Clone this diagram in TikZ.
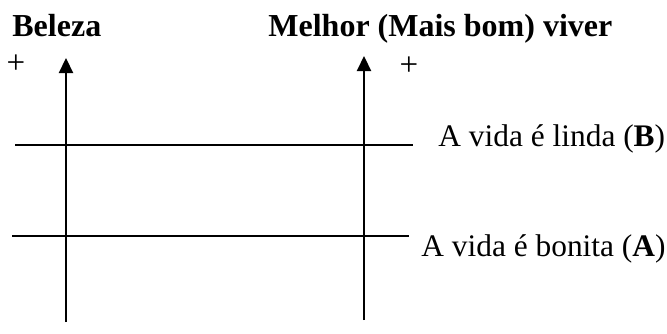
\documentclass[tikz,border=0pt]{standalone}
\usepackage{fontspec}
\setmainfont{Liberation Serif}
\usetikzlibrary{arrows.meta}

\begin{document}
\begin{tikzpicture}[x=0.5pt, y=-0.5pt,
    eixo/.style={-{Triangle[length=7.5pt, width=7pt]}, line width=1.1pt},
    linha/.style={line width=1.1pt},
    titulo/.style={anchor=base west, inner sep=0pt, font=\fontsize{16}{19}\selectfont\bfseries},
    rotulo/.style={anchor=base west, inner sep=0pt, font=\fontsize{15.7}{19}\selectfont},
    mais/.style={anchor=base, inner sep=0pt, font=\fontsize{16.5}{19}\selectfont}]
    \useasboundingbox (0, 0) rectangle (667, 333);

    % titulos dos eixos
    \node[titulo] (beleza) at (12, 36) {Beleza};
    \node[titulo] (melhor) at (268, 36) {Melhor (Mais bom) viver};
    \node[mais] (mais1) at (16, 73) {+};
    \node[mais] (mais2) at (409, 75) {+};

    % eixos verticais
    \coordinate (e1base) at (66, 322);
    \coordinate (e1topo) at (66, 58);
    \coordinate (e2base) at (364, 320);
    \coordinate (e2topo) at (364, 56);
    \draw[eixo] (e1base) -- (e1topo);
    \draw[eixo] (e2base) -- (e2topo);

    % niveis
    \coordinate (bini) at (15, 145);
    \coordinate (bfim) at (413, 145);
    \coordinate (aini) at (12, 236);
    \coordinate (afim) at (409, 236);
    \draw[linha] (bini) -- (bfim);
    \draw[linha] (aini) -- (afim);
    \node[rotulo] (linda) at (438, 146) {A vida é linda (\textbf{B})};
    \node[rotulo] (bonita) at (421, 256) {A vida é bonita (\textbf{A})};
  \end{tikzpicture}
\end{document}
